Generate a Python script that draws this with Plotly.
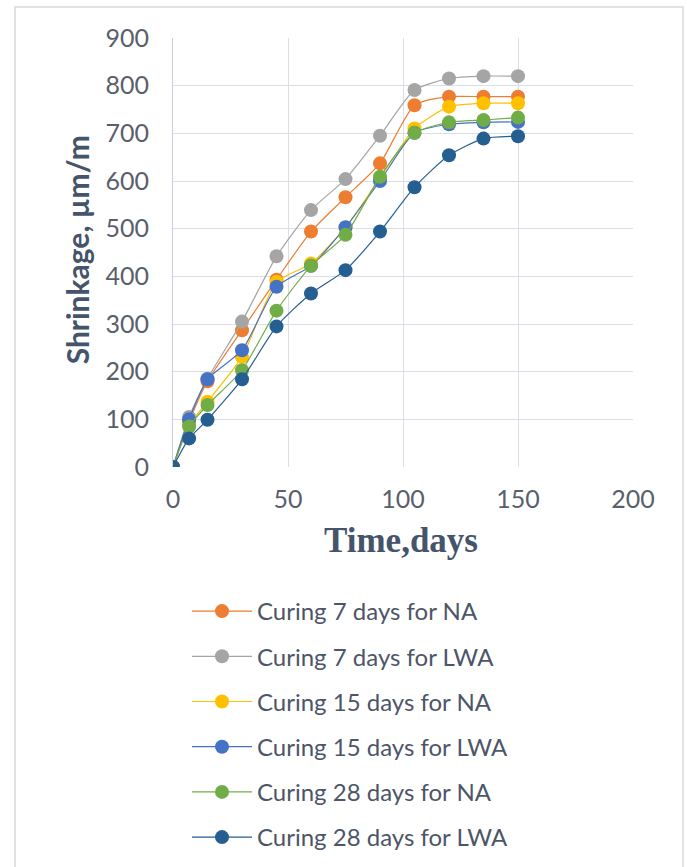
import plotly.graph_objects as go

days = [0, 7, 15, 30, 45, 60, 75, 90, 105, 120, 135, 150]

series_names = [
    "Curing 7 days for NA",
    "Curing 7 days for LWA",
    "Curing 15 days for NA",
    "Curing 15 days for LWA",
    "Curing 28 days for NA",
    "Curing 28 days for LWA",
]
cure7_na = [0, 95, 180, 287, 393, 494, 566, 637, 759, 777, 777, 777]
cure7_lwa = [0, 105, 185, 305, 442, 539, 604, 695, 791, 815, 820, 820]
cure15_na = [0, 88, 137, 231, 388, 427, 502, 606, 710, 756, 763, 763]
cure15_lwa = [0, 100, 184, 245, 378, 422, 503, 600, 701, 719, 723, 724]
cure28_na = [0, 85, 130, 203, 328, 422, 487, 609, 701, 723, 728, 733]
cure28_lwa = [0, 60, 99, 184, 295, 364, 413, 494, 587, 654, 689, 694]

series_values = [cure7_na, cure7_lwa, cure15_na, cure15_lwa, cure28_na, cure28_lwa]
colors = ["#ED7D31", "#A5A5A5", "#FFC000", "#4472C4", "#70AD47", "#255E91"]

x_ticks = [0, 50, 100, 150, 200]
y_ticks = [0, 100, 200, 300, 400, 500, 600, 700, 800, 900]

fig = go.Figure()
for i, (name, vals, col) in enumerate(zip(series_names, series_values, colors)):
    fig.add_trace(go.Scatter(
        x=days, y=vals, name=name, mode="lines+markers",
        line=dict(color=col, width=1.2, shape="spline", smoothing=0.6),
        marker=dict(color=col, size=14),
        legendgroup=f"g{i}",
    ))

tick_font = dict(family="Lato, Liberation Sans, sans-serif", size=25, color="#595F6B")
grid = "#D9DEE7"

fig.update_layout(
    width=687, height=867,
    margin=dict(l=173, r=54, t=38, b=400, autoexpand=False),
    paper_bgcolor="white", plot_bgcolor="white",
    showlegend=True,
    legend=dict(
        x=(187 - 173) / 460, y=(467 - 589) / 429, xanchor="left", yanchor="top",
        font=dict(family="Lato, Liberation Sans, sans-serif", size=24, color="#4D5668"),
        tracegroupgap=11, itemwidth=60,
        bgcolor="rgba(0,0,0,0)",
    ),
    xaxis=dict(
        range=[0, 200], tickvals=x_ticks, ticktext=[str(v) for v in x_ticks],
        showgrid=True, gridcolor=grid, gridwidth=1, automargin=False,
        zeroline=False, showline=False, mirror=False,
        tickfont=tick_font, ticks="", ticklabelstandoff=15, tickangle=0,
    ),
    yaxis=dict(
        range=[0, 900], tickvals=y_ticks, ticktext=[str(v) for v in y_ticks],
        showgrid=True, gridcolor=grid, gridwidth=1, automargin=False,
        zeroline=False, showline=True, linecolor="#C9CFDA", linewidth=1,
        tickfont=tick_font, ticks="", ticklabelstandoff=18,
    ),
    annotations=[
        dict(text="<b>Shrinkage, µm/m</b>", xref="paper", yref="paper",
             x=(77 - 173) / 460, y=0.505, textangle=-90, showarrow=False,
             xanchor="center", yanchor="middle",
             font=dict(family="Lato, Liberation Sans, sans-serif", size=30, color="#44546A")),
        dict(text="<b>Time,days</b>", xref="paper", yref="paper",
             x=(401 - 173) / 460, y=(467 - 540) / 429, showarrow=False,
             xanchor="center", yanchor="middle",
             font=dict(family="Liberation Serif, serif", size=35, color="#44546A")),
    ],
    shapes=[dict(type="rect", xref="paper", yref="paper",
                 x0=(15 - 173) / 460, x1=(683 - 173) / 460,
                 y0=(467 - 890) / 429, y1=(467 - 7) / 429,
                 line=dict(color="#D9D9D9", width=1.5), fillcolor="rgba(0,0,0,0)", layer="below")],
)

fig.write_html("out.html", config={"displayModeBar": False},
               post_script="document.body.style.margin='0px';")
